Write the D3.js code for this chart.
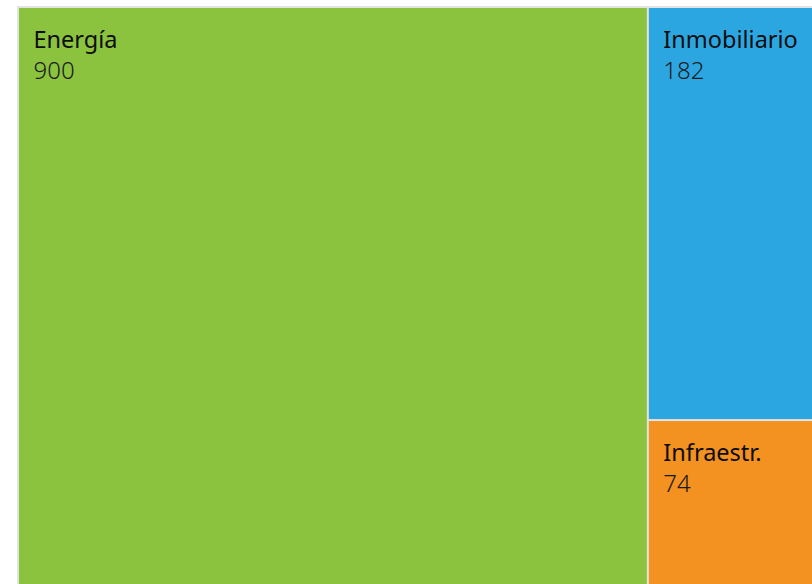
<!DOCTYPE html>
<html><head><meta charset="utf-8">
<script src="https://cdn.jsdelivr.net/npm/d3@7"></script>
<style>html,body{margin:0;padding:0;background:#fff;overflow:hidden}</style>
</head><body><svg id="c" width="812" height="584"></svg>
<script>
const categories = ["Energía", "Inmobiliario", "Infraestr."];
const values = [900, 182, 74];
const colors = ["#8bc33f", "#2ca6e0", "#f39121"];

const svg = d3.select("#c");
const x0 = 17, y0 = 6, W = 811, H = 583;
svg.append("rect").attr("x", x0).attr("y", y0).attr("width", W).attr("height", H).attr("fill", "#e3e3e3");

const root = d3.hierarchy({children: categories.map((c, i) => ({name: c, value: values[i], color: colors[i]}))})
  .sum(d => d.value || 0).sort((a, b) => b.value - a.value);
d3.treemap().tile(d3.treemapSquarify).size([W - 4, H - 4]).paddingInner(2)(root);

const g = svg.append("g").attr("transform", `translate(${x0 + 2},${y0 + 2})`);
const cell = g.selectAll("g").data(root.leaves()).join("g").attr("transform", d => `translate(${d.x0},${d.y0})`);
cell.append("rect").attr("width", d => d.x1 - d.x0).attr("height", d => d.y1 - d.y0).attr("fill", d => d.data.color);
cell.append("text").attr("x", 14.5).attr("y", 39.5).attr("font-family", "Noto Sans").attr("font-size", 23.5)
  .attr("fill", "#0d0d0d").text(d => d.data.name);
cell.append("text").attr("x", 14.5).attr("y", 71).attr("font-family", "Noto Sans").attr("font-size", 24)
  .attr("font-weight", 300).attr("fill", "#1a1a1a").text(d => d.data.value);
</script></body></html>
